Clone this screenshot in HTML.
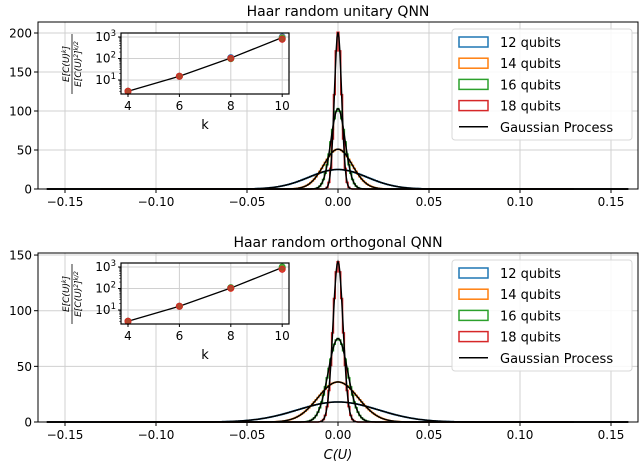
<!DOCTYPE html>
<html><head><meta charset="utf-8">
<style>
body{margin:0;background:#fff;}
svg{display:block;font-family:"DejaVu Sans","Liberation Sans",sans-serif;}
</style></head>
<body>
<svg id="fig" width="640" height="465" viewBox="0 0 640 465"></svg>
<script>
// ---- data ----
const xTicks = [-0.15, -0.10, -0.05, 0.00, 0.05, 0.10, 0.15];
const xTickLabels = ["\u22120.15", "\u22120.10", "\u22120.05", "0.00", "0.05", "0.10", "0.15"];
const seriesNames = ["12 qubits", "14 qubits", "16 qubits", "18 qubits"];
const seriesColors = ["#1f77b4", "#ff7f0e", "#2ca02c", "#d62728"];
const unitaryPeaks = [25, 51, 103, 201];
const orthoPeaks = [18, 36, 75, 144];
const unitaryYTicks = [0, 50, 100, 150, 200];
const orthoYTicks = [0, 50, 100, 150];
const insetK = [4, 6, 8, 10];
const insetUnitary = [3, 15, 105, 945];
const insetUnitaryPts = [[3, 3, 3, 3], [15, 15, 15, 15], [110, 100, 98, 102], [1000, 900, 850, 780]];
const insetOrtho = [3, 15, 105, 945];
const insetOrthoPts = [[3, 3, 3, 3], [15, 15, 15, 15], [105, 102, 110, 103], [900, 880, 1000, 780]];

const NS = "http://www.w3.org/2000/svg";
const svg = document.getElementById("fig");
function mk(tag, attrs, parent) {
  const e = document.createElementNS(NS, tag);
  for (const k in attrs) e.setAttribute(k, attrs[k]);
  (parent || svg).appendChild(e);
  return e;
}
function txt(s, x, y, size, anchor, parent) {
  const t = mk("text", {x: x, y: y, "font-size": size, "text-anchor": anchor || "middle", fill: "#000"}, parent);
  t.textContent = s;
  return t;
}

function panel(cfg) {
  const g = mk("g", {});
  
  
  const L = 38, R = 638, T = cfg.top, B = cfg.bottom;
  const X = v => 338 + v * 1820;
  const Y = v => cfg.y0 - v * cfg.yscale;
  const ti = txt(cfg.title, 338, T - 6, 14, "middle", g);
  
  
  xTicks.forEach((v, i) => {
    mk("line", {x1: X(v), x2: X(v), y1: T, y2: B, stroke: "#d0d0d0", "stroke-width": 1}, g);
  });
  cfg.yTicks.forEach(v => {
    mk("line", {x1: L, x2: R, y1: Y(v), y2: Y(v), stroke: "#d0d0d0", "stroke-width": 1}, g);
  });
  const bw = 0.001;
  cfg.peaks.forEach((p, si) => {
    const sig = 1 / (p * Math.sqrt(2 * Math.PI));
    let d = "";
    for (let i = -130; i < 130; i++) {
      const x = (i - 0.5) * bw;
      const c = i * bw;
      const h = p * Math.exp(-c * c / (2 * sig * sig));
      d += (d ? "L" : "M") + X(x).toFixed(2) + "," + Y(h).toFixed(2) + "L" + X(x + bw).toFixed(2) + "," + Y(h).toFixed(2);
    }
    const hp = mk("path", {d: d, fill: "none", stroke: seriesColors[si], "stroke-width": 1.5}, g);
    
    
  });
  cfg.peaks.forEach((p, si) => {
    const sig = 1 / (p * Math.sqrt(2 * Math.PI));
    let d = "";
    for (let x = -0.16; x <= 0.16; x += 0.0005) {
      const h = p * Math.exp(-x * x / (2 * sig * sig));
      d += (d ? "L" : "M") + X(x).toFixed(2) + "," + Y(h).toFixed(2);
    }
    const gp = mk("path", {d: d, fill: "none", stroke: "#000", "stroke-width": 1.5}, g);
    
    
  });
  mk("rect", {x: L, y: T, width: R - L, height: B - T, fill: "none", stroke: "#000", "stroke-width": 1}, g);
  xTicks.forEach((v, i) => {
    mk("line", {x1: X(v), x2: X(v), y1: B, y2: B + 4, stroke: "#000"}, g);
    const t = txt(xTickLabels[i], X(v), B + 17, 12, "middle", g);
    
    
  });
  cfg.yTicks.forEach(v => {
    mk("line", {x1: L - 4, x2: L, y1: Y(v), y2: Y(v), stroke: "#000"}, g);
    const t = txt(String(v), L - 6, Y(v) + 4.5, 12, "end", g);
    
    
  });
  const iL = 121, iR = 289, iT = cfg.iTop, iB = cfg.iTop + 61;
  const KX = k => 128 + (k - 4) * 25.7;
  const KY = v => iT + 4 + (3 - Math.log10(v)) * 21.5;
  const ig = mk("g", {}, g);
  
  
  mk("rect", {x: iL, y: iT, width: iR - iL, height: iB - iT, fill: "#fff"}, ig);
  insetK.forEach(k => mk("line", {x1: KX(k), x2: KX(k), y1: iT, y2: iB, stroke: "#d0d0d0"}, ig));
  [10, 100, 1000].forEach(v => mk("line", {x1: iL, x2: iR, y1: KY(v), y2: KY(v), stroke: "#d0d0d0"}, ig));
  let ld = "";
  insetK.forEach((k, i) => { ld += (i ? "L" : "M") + KX(k) + "," + KY(cfg.inset[i]); });
  const il = mk("path", {d: ld, fill: "none", stroke: "#000", "stroke-width": 1.3}, ig);
  
  
  insetK.forEach((k, i) => {
    cfg.insetPts[i].forEach((v, si) => {
      const c = mk("circle", {cx: KX(k), cy: KY(v), r: 3, fill: seriesColors[si], stroke: seriesColors[si], "fill-opacity": 0.7}, ig);
      
      
    });
  });
  mk("rect", {x: iL, y: iT, width: iR - iL, height: iB - iT, fill: "none", stroke: "#000", "stroke-width": 1.2}, ig);
  insetK.forEach(k => {
    mk("line", {x1: KX(k), x2: KX(k), y1: iB, y2: iB + 3, stroke: "#000"}, ig);
    txt(String(k), KX(k), iB + 16, 12, "middle", ig);
  });
  [[10, "1"], [100, "2"], [1000, "3"]].forEach(([v, e]) => {
    mk("line", {x1: iL - 3, x2: iL, y1: KY(v), y2: KY(v), stroke: "#000"}, ig);
    const t = mk("text", {x: iL - 5, y: KY(v) + 4, "font-size": 12, "text-anchor": "end"}, ig);
    t.innerHTML = '10<tspan dy="-5" font-size="8.5">' + e + '</tspan>';
  });
  [2,3,4,5,6,7,8,9,20,30,40,50,60,70,80,90,200,300,400,500,600,700,800,900].forEach(v => {
    if (KY(v) > iT && KY(v) < iB) mk("line", {x1: iL - 1.8, x2: iL, y1: KY(v), y2: KY(v), stroke: "#000", "stroke-width": 0.6}, ig);
  });
  const kl = txt("k", 205, iB + 35, 13, "middle", ig);
  
  
  const yl = mk("g", {transform: "translate(72," + (iT + 31) + ") rotate(-90)"}, ig);
  
  
  const n = mk("text", {x: 0, y: -3, "font-size": 9, "text-anchor": "middle", "font-style": "italic"}, yl);
  n.innerHTML = 'E[C(U)<tspan dy="-3" font-size="6">k</tspan><tspan dy="3">]</tspan>';
  mk("line", {x1: -30, x2: 30, y1: 0, y2: 0, stroke: "#000", "stroke-width": 0.8}, yl);
  const dn = mk("text", {x: 0, y: 9, "font-size": 9, "text-anchor": "middle", "font-style": "italic"}, yl);
  dn.innerHTML = 'E[C(U)<tspan dy="-3" font-size="6">2</tspan><tspan dy="3">]</tspan><tspan dy="-3" font-size="6">k/2</tspan>';
  const lg = mk("g", {}, g);
  
  
  const lT = cfg.legTop;
  mk("rect", {x: 452, y: lT, width: 180, height: 111, rx: 3, fill: "#fff", "fill-opacity": 0.85, stroke: "#d8d8d8"}, lg);
  seriesNames.forEach((nm, i) => {
    const y = lT + 13 + i * 21.2;
    mk("rect", {x: 459, y: y - 5, width: 29, height: 10, fill: "none", stroke: seriesColors[i], "stroke-width": 1.5}, lg);
    const t = txt(nm, 500, y + 5, 13, "start", lg);
    
    
  });
  const gy = lT + 13 + 4 * 21.2;
  mk("line", {x1: 459, x2: 488, y1: gy, y2: gy, stroke: "#000", "stroke-width": 1.5}, lg);
  const gt = txt("Gaussian Process", 500, gy + 5, 13, "start", lg);
  
  
}

panel({name: "unitary-panel", title: "Haar random unitary QNN", top: 22, bottom: 189, y0: 189, yscale: 0.78,
  yTicks: unitaryYTicks, peaks: unitaryPeaks, iTop: 33, inset: insetUnitary, insetPts: insetUnitaryPts, legTop: 29});
panel({name: "orthogonal-panel", title: "Haar random orthogonal QNN", top: 253, bottom: 422, y0: 422, yscale: 1.113,
  yTicks: orthoYTicks, peaks: orthoPeaks, iTop: 263, inset: insetOrtho, insetPts: insetOrthoPts, legTop: 260});

const xl = mk("text", {x: 338, y: 459, "font-size": 13, "text-anchor": "middle", "font-style": "italic"});
xl.textContent = "C(U)";


</script>
</body></html>
